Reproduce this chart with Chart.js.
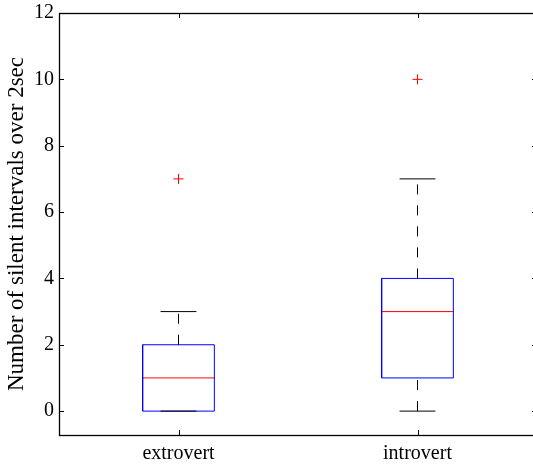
<!DOCTYPE html>
<html>
<head>
<meta charset="utf-8">
<script src="https://cdn.jsdelivr.net/npm/chart.js@4/dist/chart.umd.min.js"></script>
<style>
    html, body { margin: 0; padding: 0; background: #fff; overflow: hidden; }
    #wrap { width: 533px; height: 466px; overflow: hidden; }
    canvas { display: block; }
</style>
</head>
<body>
<div id="wrap"><canvas id="box" width="540" height="466"></canvas></div>
<script>
// Box plot values
const categories = ['extrovert', 'introvert'];
const whiskerLow = [0, 0];
const q1 = [0, 1];
const median = [1, 3];
const q3 = [2, 4];
const whiskerHigh = [3, 7];
const outliers = [[7], [10]];
const yTicks = [0, 2, 4, 6, 8, 10, 12];

const BOX_HALF = 0.15;
const CAP_HALF = 0.075;
const FONT = "'Liberation Serif', 'Times New Roman', serif";

// build line datasets for each box
const datasets = [];
categories.forEach((c, i) => {
    const x = i + 1;
    // whiskers (dashed)
    datasets.push({
        data: [{ x: x, y: q3[i] }, { x: x, y: whiskerHigh[i] }],
        borderColor: '#000', borderWidth: 1, borderDash: [10, 11]
    });
    datasets.push({
        data: [{ x: x, y: whiskerLow[i] }, { x: x, y: q1[i] }],
        borderColor: '#000', borderWidth: 1, borderDash: [10, 11]
    });
    // caps
    datasets.push({
        data: [{ x: x - CAP_HALF, y: whiskerHigh[i] }, { x: x + CAP_HALF, y: whiskerHigh[i] }],
        borderColor: '#000', borderWidth: 1
    });
    datasets.push({
        data: [{ x: x - CAP_HALF, y: whiskerLow[i] }, { x: x + CAP_HALF, y: whiskerLow[i] }],
        borderColor: '#000', borderWidth: 1
    });
    // box
    datasets.push({
        data: [
            { x: x - BOX_HALF, y: q1[i] }, { x: x + BOX_HALF, y: q1[i] },
            { x: x + BOX_HALF, y: q3[i] }, { x: x - BOX_HALF, y: q3[i] },
            { x: x - BOX_HALF, y: q1[i] }
        ],
        borderColor: '#0000ff', borderWidth: 1
    });
    // median
    datasets.push({
        data: [{ x: x - BOX_HALF, y: median[i] }, { x: x + BOX_HALF, y: median[i] }],
        borderColor: '#ff0000', borderWidth: 1
    });
    // outliers
    datasets.push({
        data: outliers[i].map(v => ({ x: x, y: v })),
        showLine: false,
        pointStyle: 'cross',
        pointRadius: 5,
        pointBorderColor: '#ff0000',
        pointBorderWidth: 1
    });
});
datasets.forEach(d => {
    if (d.showLine === undefined) { d.showLine = true; d.pointRadius = 0; }
    d.fill = false;
    d.tension = 0;
});

// inside tick marks + full axes box
const axesBox = {
    id: 'axesBox',
    afterDraw(chart) {
        const { ctx, chartArea: a, scales } = chart;
        const len = 5;
        ctx.save();
        ctx.strokeStyle = '#000';
        ctx.lineWidth = 1;
        ctx.beginPath();
        scales.x.ticks.forEach(t => {
            const px = Math.round(scales.x.getPixelForValue(t.value)) + 0.5;
            ctx.moveTo(px, a.bottom); ctx.lineTo(px, a.bottom - len);
            ctx.moveTo(px, a.top); ctx.lineTo(px, a.top + len);
        });
        scales.y.ticks.forEach(t => {
            const py = Math.round(scales.y.getPixelForValue(t.value)) + 0.5;
            ctx.moveTo(a.left, py); ctx.lineTo(a.left + len, py);
            ctx.moveTo(a.right, py); ctx.lineTo(a.right - len, py);
        });
        ctx.stroke();
        ctx.lineWidth = 1.3;
        ctx.strokeRect(Math.round(a.left) + 0.5, Math.round(a.top) + 0.5,
            Math.round(a.right - a.left), Math.round(a.bottom - a.top));
        ctx.restore();
    }
};

const noPad = s => { s.paddingTop = 0; s.paddingBottom = 0; s.paddingLeft = 0; s.paddingRight = 0; };

new Chart(document.getElementById('box'), {
    type: 'scatter',
    data: { datasets: datasets },
    options: {
        responsive: false,
        animation: false,
        layout: { autoPadding: false, padding: { top: 13, right: 3, left: 0, bottom: 0 } },
        plugins: { legend: { display: false }, tooltip: { enabled: false } },
        scales: {
            x: {
                type: 'linear',
                min: 0.5, max: 2.5,
                grid: { display: false, drawTicks: false },
                border: { display: false },
                afterBuildTicks: s => { s.ticks = categories.map((c, i) => ({ value: i + 1 })); },
                afterFit: s => { s.height = 31; noPad(s); },
                ticks: {
                    color: '#000',
                    padding: 7,
                    maxRotation: 0,
                    font: { family: FONT, size: 20 },
                    callback: v => categories[v - 1]
                }
            },
            y: {
                type: 'linear',
                min: -0.72, max: 12,
                grid: { display: false, drawTicks: false },
                border: { display: false },
                afterBuildTicks: s => { s.ticks = yTicks.map(v => ({ value: v })); },
                afterFit: s => { s.width = 59; noPad(s); },
                ticks: {
                    color: '#000',
                    padding: 5,
                    font: { family: FONT, size: 20 }
                },
                title: {
                    display: true,
                    text: 'Number of silent intervals over 2sec',
                    color: '#000',
                    padding: { top: 3, bottom: 0 },
                    font: { family: FONT, size: 23 }
                }
            }
        }
    },
    plugins: [axesBox]
});
</script>
</body>
</html>
